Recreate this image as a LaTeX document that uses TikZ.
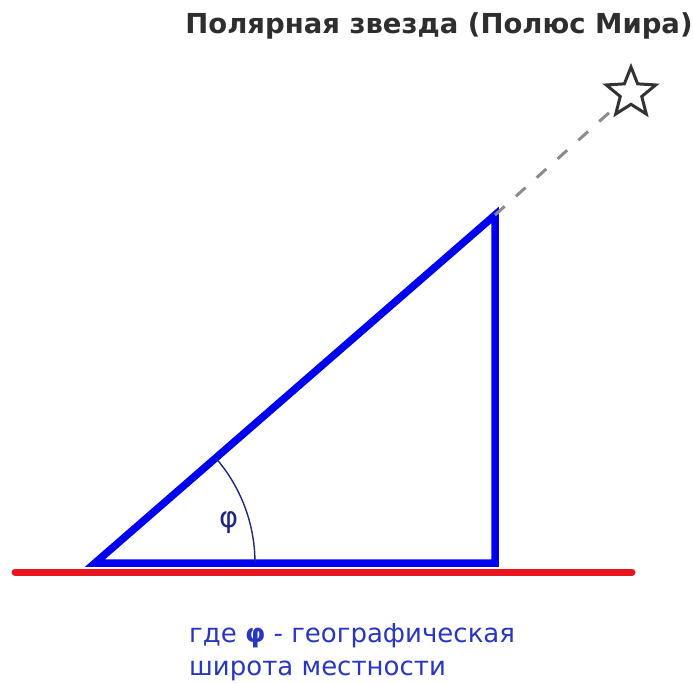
\documentclass[tikz,border=0pt]{standalone}
\usepackage{fontspec}
\setmainfont{DejaVu Sans}
\usepackage{tikz}
\usetikzlibrary{shapes.geometric}
\usepackage{xcolor}
\definecolor{legblue}{RGB}{0,0,240}
\definecolor{horizonred}{RGB}{232,20,30}
\definecolor{labelnavy}{RGB}{30,40,130}
\definecolor{notetext}{RGB}{40,55,190}

\begin{document}
\begin{tikzpicture}[
      x=1pt, y=1pt,
      leg/.style = {draw=legblue, line width=7.5pt, line join=miter},
      horizon/.style = {draw=horizonred, line width=7pt, line cap=round},
      sightline/.style = {draw=gray!90, line width=3pt, dash pattern=on 13pt off 15pt},
      polestar/.style = {
        star, star points=5, star point ratio=2.3, draw=black!80,
        line width=3pt, minimum size=52pt, inner sep=0pt
      },
      caption/.style = {font=\fontsize{26}{33}\selectfont, text=notetext, align=left}
    ]
    \useasboundingbox (0,0) rectangle (693,683);

    \coordinate (south) at (15,111);
    \coordinate (north) at (632,111);
    \draw[horizon] (south) -- (north);

    \coordinate (observer) at (95,120);
    \coordinate (zenith)   at (495,468);
    \coordinate (foot)     at (495,120);
    \draw[leg] (observer) -- (zenith) -- (foot) -- cycle;

    \node[polestar] (polaris) at (631,590) {};
    \draw[sightline] (zenith) -- (polaris);

    \draw[draw=labelnavy, line width=1.4pt] (observer) ++(160,0) arc[start angle=0, end angle=41, radius=160];
    \node[text=labelnavy, font=\fontsize{29}{32}\selectfont] (phi) at (229,160) {φ};

    \node[anchor=base, font=\fontsize{27.5}{32}\selectfont\bfseries, text=black!82] (title) at (439,649)
      {Полярная звезда (Полюс Мира)};

    \node[caption, anchor=base west, inner sep=0pt] (note) at (189,8)
      {где \textbf{φ} - географическая\\широта местности};

  \end{tikzpicture}
\end{document}
